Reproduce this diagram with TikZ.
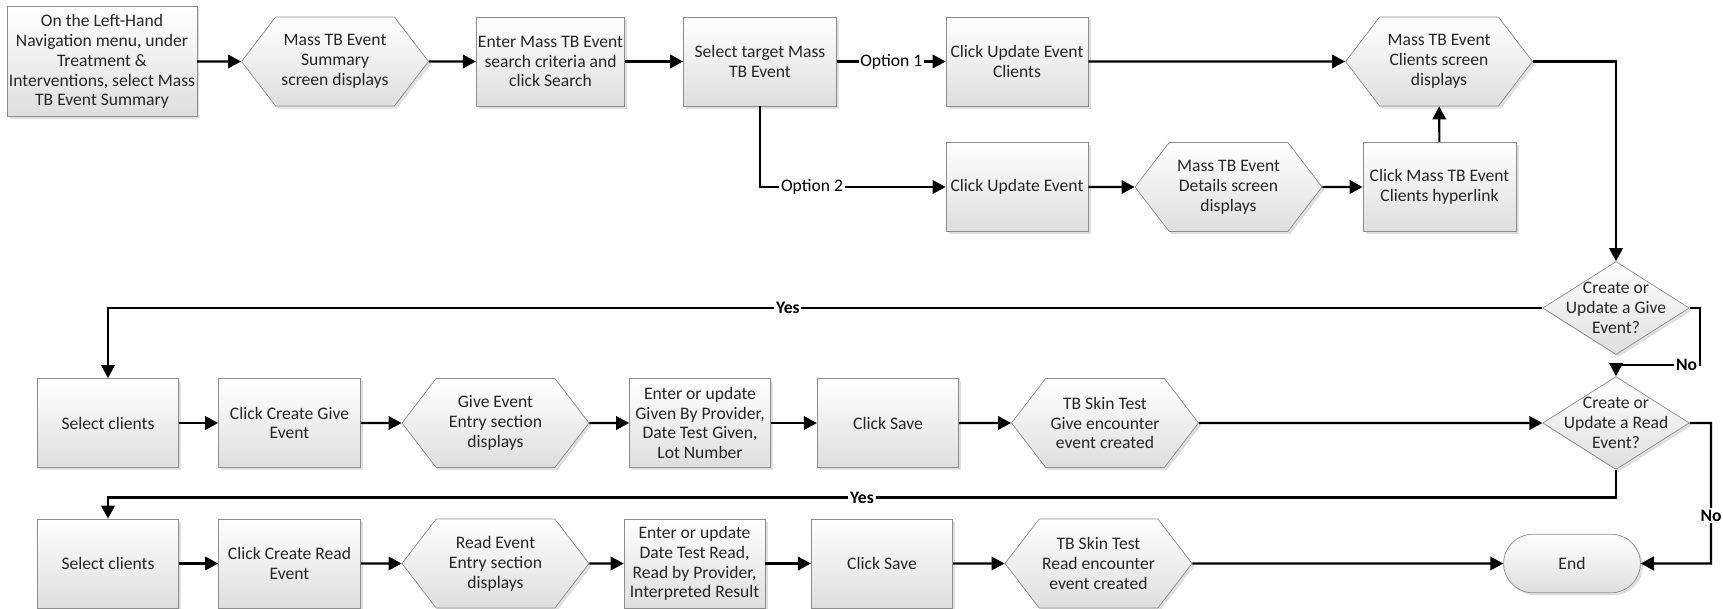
\documentclass[tikz,border=0pt]{standalone}
\usepackage{fontspec}
\setmainfont{Carlito}
\usetikzlibrary{positioning, arrows.meta, shapes.geometric, shapes.symbols, shapes.misc, shadows}
\definecolor{boxline}{HTML}{8C8C8C}
\definecolor{boxshade}{HTML}{DEDEDE}
\definecolor{boxtext}{HTML}{262626}

\begin{document}
\begin{tikzpicture}[
        font=\fontsize{10}{11.3}\selectfont,
        base/.style={draw=boxline, top color=white, bottom color=boxshade, text=boxtext, align=center,
          drop shadow={shadow xshift=0.05cm, shadow yshift=-0.05cm, opacity=0.25}},
        box/.style={base, rectangle, minimum width=2.82cm, minimum height=1.78cm, inner sep=1pt},
        screen/.style={base, signal, signal to=east and west, signal pointer angle=105,
          minimum width=3.74cm, minimum height=1.78cm, inner sep=1pt},
        decision/.style={base, diamond, minimum width=2.93cm, minimum height=1.86cm, inner sep=0pt},
        terminal/.style={base, rounded rectangle, minimum width=2.97cm, minimum height=1.17cm},
        flow/.style={-{Triangle[length=0.26cm, width=0.27cm]}, line width=1.2pt},
        lbl/.style={fill=white, inner sep=1pt, text=black}]
      \useasboundingbox (0,0) rectangle (34.46,-12.18);
      % Top row
      \node[box, minimum width=3.75cm, minimum height=2.21cm] (nav) at (2.04,-1.23)
        {On the Left-Hand\\Navigation menu, under\\Treatment \&\\Interventions, select Mass\\TB Event Summary};
      \node[screen] (summary) at (6.70,-1.23) {Mass TB Event\\Summary\\screen displays};
      \node[box, minimum width=2.94cm] (search) at (11.01,-1.23) {Enter Mass TB Event\\search criteria and\\click Search};
      \node[box, minimum width=3.06cm] (target) at (15.20,-1.23) {Select target Mass\\TB Event};
      \node[box, minimum width=2.84cm] (updclients) at (20.34,-1.23) {Click Update Event\\Clients};
      \node[screen] (clientsscr) at (28.78,-1.23) {Mass TB Event\\Clients screen\\displays};
      % Option 2 row
      \node[box, minimum width=2.84cm] (updevent) at (20.34,-3.74) {Click Update Event};
      \node[screen] (details) at (24.57,-3.74) {Mass TB Event\\Details screen\\displays};
      \node[box, minimum width=3.06cm] (hyperlink) at (28.79,-3.74) {Click Mass TB Event\\Clients hyperlink};
      % Decisions
      \node[decision, label={[align=center, text=boxtext]center:Create or\\Update a Give\\Event?}] (givedec) at (32.32,-6.16) {};
      \node[decision, label={[align=center, text=boxtext]center:Create or\\Update a Read\\Event?}] (readdec) at (32.32,-8.46) {};
      % Give row
      \node[box] (selgive) at (2.16,-8.46) {Select clients};
      \node[box, minimum width=2.84cm] (creategive) at (5.79,-8.46) {Click Create Give\\Event};
      \node[screen] (giveentry) at (9.91,-8.46) {Give Event\\Entry section\\displays};
      \node[box] (entergive) at (14.00,-8.46) {Enter or update\\Given By Provider,\\Date Test Given,\\Lot Number};
      \node[box, minimum width=2.83cm] (savegive) at (17.76,-8.46) {Click Save};
      \node[screen] (givedone) at (22.10,-8.46) {TB Skin Test\\Give encounter\\event created};
      % Read row
      \node[box] (selread) at (2.16,-11.27) {Select clients};
      \node[box, minimum width=2.84cm] (createread) at (5.79,-11.27) {Click Create Read\\Event};
      \node[screen] (readentry) at (9.91,-11.27) {Read Event\\Entry section\\displays};
      \node[box] (enterread) at (13.89,-11.27) {Enter or update\\Date Test Read,\\Read by Provider,\\Interpreted Result};
      \node[box, minimum width=2.83cm] (saveread) at (17.64,-11.27) {Click Save};
      \node[screen] (readdone) at (21.97,-11.27) {TB Skin Test\\Read encounter\\event created};
      \node[terminal] (end) at (31.44,-11.27) {End};
      % Turning points
      \coordinate (giveno) at (34.00,-7.30);
      \coordinate (readyes) at (32.32,-9.95);
      \coordinate (readno) at (34.22,-11.27);

      \draw[flow] (nav) -- (summary);
      \draw[flow] (summary) -- (search);
      \draw[flow] (search) -- (target);
      \draw[flow] (target) -- node[lbl] {Option 1} (updclients);
      \draw[flow] (updclients) -- (clientsscr);
      \draw[flow] (target) |- node[lbl, pos=0.64] {Option 2} (updevent);
      \draw[flow] (updevent) -- (details);
      \draw[flow] (details) -- (hyperlink);
      \draw[flow] (hyperlink) -- (clientsscr);
      \draw[flow] (clientsscr) -| (givedec);
      \draw[flow] (givedec) -| node[lbl, font=\bfseries, pos=0.263] {Yes} (selgive.north);
      \draw[flow] (givedec.east) -| (giveno) -| node[lbl, font=\bfseries, pos=0.08] {No} (readdec.north);

      \draw[flow] (selgive) -- (creategive);
      \draw[flow] (creategive) -- (giveentry);
      \draw[flow] (giveentry) -- (entergive);
      \draw[flow] (entergive) -- (savegive);
      \draw[flow] (savegive) -- (givedone);
      \draw[flow] (givedone) -- (readdec);
      \draw[flow] (readdec.south) -- (readyes) -| node[lbl, font=\bfseries, pos=0.25] {Yes} (selread.north);
      \draw[flow] (readdec.east) -| node[lbl, font=\bfseries, pos=0.83] {No} (readno) -- (end);

      \draw[flow] (selread) -- (createread);
      \draw[flow] (createread) -- (readentry);
      \draw[flow] (readentry) -- (enterread);
      \draw[flow] (enterread) -- (saveread);
      \draw[flow] (saveread) -- (readdone);
      \draw[flow] (readdone) -- (end);
    \end{tikzpicture}
\end{document}
